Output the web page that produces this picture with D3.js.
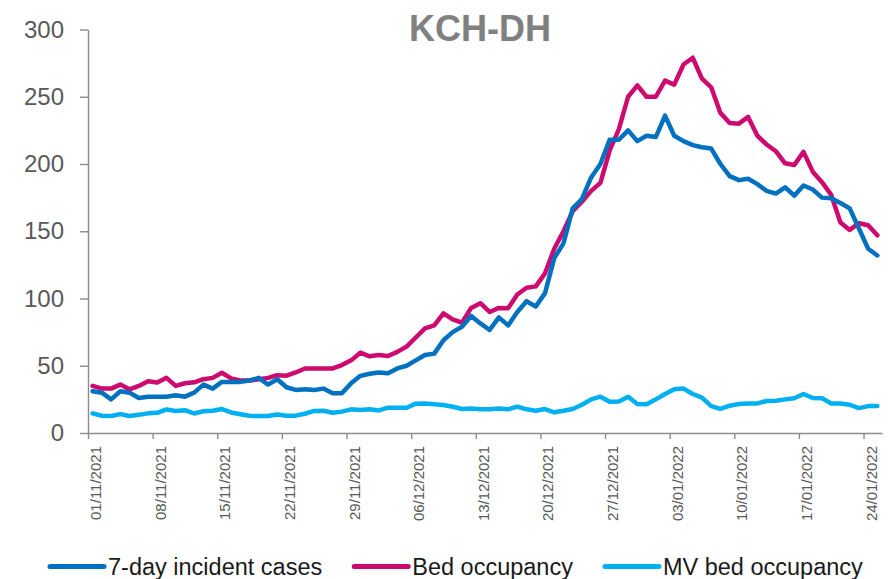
<!DOCTYPE html>
<html lang="en">
<head>
  <meta charset="UTF-8">
  <title>KCH-DH</title>
  <style>
    body { margin: 0; background: #fff; }
    svg { display: block; font-family: "Liberation Sans", Arial, sans-serif; }
  </style>
</head>
<body>
  <svg width="891" height="579"></svg>

  <script src="https://d3js.org/d3.v7.min.js"></script>
  <script>
  // data, one value per day from 01/11/2021
  var startDate = new Date(Date.UTC(2021, 10, 1));

  var cases7day = [31, 30, 25, 31, 30, 26, 27, 27, 27, 28,
    27, 30, 36, 33, 38, 38, 38, 39, 41, 36,
    40, 34, 32, 32.5, 32, 33, 29.5, 29.5, 37, 42.5,
    44, 45, 44.4, 48, 50, 54, 58, 59, 69, 75,
    79, 87, 81.5, 76.6, 86, 80, 90, 98, 94, 104,
    130, 141, 167, 174, 190, 200, 218, 218, 225, 217,
    221, 220, 236, 221, 217, 214, 212.5, 211.5, 200, 191,
    188, 189, 185, 180, 178, 182.7, 176.5, 184, 181, 175,
    174.5, 171, 167, 152, 137, 132];

  var bedOccupancy = [35, 33, 33, 36, 32.5, 35, 38.5, 37.5, 41, 35,
    37, 37.7, 40, 41, 44.8, 40.6, 39, 39, 40, 41,
    43, 42.6, 45, 48, 48, 48, 48, 50.5, 54, 59.7,
    57, 58, 57.2, 60.3, 64.2, 71, 77.8, 80, 89, 84.5,
    82, 93, 96.5, 90, 93, 92.7, 103, 108, 109, 118.7,
    137, 150, 165, 172, 180, 186, 210, 226, 250, 258.5,
    250, 250, 262, 259, 274, 279, 263.5, 257, 238, 230.5,
    230, 235, 221, 214.5, 209.5, 200.5, 199.3, 209, 194.3, 186.5,
    177, 156.5, 151, 156, 154.5, 147];

  var mvBedOccupancy = [14.6, 12.8, 12.6, 14, 12.6, 13.6, 14.6, 15, 17.5, 16.4,
    17, 14.5, 16.2, 16.6, 17.8, 15.3, 14, 12.8, 12.6, 12.6,
    13.8, 12.8, 12.9, 14.3, 16.4, 16.5, 15.1, 15.9, 17.6, 17.1,
    17.6, 16.8, 18.8, 18.8, 18.8, 21.8, 22, 21.3, 20.8, 19.5,
    17.8, 18.3, 17.6, 17.6, 18.3, 17.6, 19.6, 17.6, 16.6, 17.8,
    15.4, 16.5, 17.8, 21, 25, 27, 23.3, 23.5, 27, 21.5,
    21.3, 25, 29, 32.5, 33, 29, 26.3, 20, 18, 20.3,
    21.5, 22, 22, 23.8, 24, 25, 25.8, 29, 26, 25.8,
    22, 22, 21, 18.5, 20, 20];

  var seriesNames = ["7-day incident cases", "Bed occupancy", "MV bed occupancy"];
  var seriesColors = ["#0070c0", "#cc0a6f", "#00b0f0"];
  var yTicks = [0, 50, 100, 150, 200, 250, 300];
  var xTickLabels = ["01/11/2021", "08/11/2021", "15/11/2021", "22/11/2021", "29/11/2021",
    "06/12/2021", "13/12/2021", "20/12/2021", "27/12/2021", "03/01/2022",
    "10/01/2022", "17/01/2022", "24/01/2022"];

  var parseDay = d3.utcParse("%d/%m/%Y");
  var days = cases7day.map(function(d, i) { return d3.utcDay.offset(startDate, i); });
  var series = [cases7day, bedOccupancy, mvBedOccupancy];

  var svg = d3.select("svg");
  var plotLeft = 88, plotRight = 882, plotTop = 29.5, plotBottom = 433;

  // 1. scales
  var x = d3.scaleUtc()
    .domain([startDate, d3.utcDay.offset(startDate, cases7day.length)])
    .range([plotLeft, plotRight]);
  var y = d3.scaleLinear().domain([0, 300]).range([plotBottom, plotTop]);

  // points sit in the middle of each day slot
  function px(d) { return x(d3.utcHour.offset(d, 12)); }

  // 2. axes
  var yAxis = svg.append("g")
    .attr("transform", "translate(" + plotLeft + ",0)")
    .call(d3.axisLeft(y).tickValues(yTicks).tickSize(8).tickPadding(16).tickSizeOuter(0));
  yAxis.selectAll("text")
    .attr("font-size", "24px")
    .attr("fill", "#595959")
    .attr("font-family", "Liberation Sans, Arial, sans-serif");

  var xAxis = svg.append("g")
    .attr("transform", "translate(0," + plotBottom + ")")
    .call(d3.axisBottom(x)
      .tickValues(xTickLabels.map(parseDay))
      .tickSize(6)
      .tickSizeOuter(0)
      .tickFormat(d3.utcFormat("%d/%m/%Y")));
  xAxis.selectAll("text")
    .attr("font-size", "15px")
    .attr("fill", "#595959")
    .attr("font-family", "Liberation Sans, Arial, sans-serif")
    .attr("text-anchor", "end")
    .attr("dy", null)
    .attr("y", 0)
    .attr("transform", "translate(12.5,13) rotate(-90)");

  svg.selectAll(".domain, .tick line")
    .attr("stroke", "#8c8c8c")
    .attr("stroke-width", 1.4);

  // 3. lines (MV first so the others sit above it)
  var line = d3.line()
    .x(function(d, i) { return px(days[i]); })
    .y(function(d) { return y(d); });

  [2, 1, 0].forEach(function(k) {
    svg.append("path")
      .datum(series[k])
      .attr("fill", "none")
      .attr("stroke", seriesColors[k])
      .attr("stroke-width", 4.5)
      .attr("stroke-linejoin", "round")
      .attr("stroke-linecap", "round")
      .attr("d", line);
  });

  // title
  svg.append("text")
    .attr("x", 480)
    .attr("y", 41)
    .attr("text-anchor", "middle")
    .attr("font-size", "36px")
    .attr("font-weight", "bold")
    .attr("fill", "#808080")
    .text("KCH-DH");

  // 4. legend
  var legend = svg.append("g");
  var items = legend.selectAll("g")
    .data(seriesNames)
    .enter()
    .append("g");
  items.append("line")
    .attr("x1", 0).attr("x2", 54)
    .attr("y1", 0).attr("y2", 0)
    .attr("stroke", function(d, i) { return seriesColors[i]; })
    .attr("stroke-width", 5)
    .attr("stroke-linecap", "round");
  items.append("text")
    .attr("x", 58)
    .attr("y", 8.5)
    .attr("font-size", "23.5px")
    .attr("fill", "#1a1a1a")
    .text(function(d) { return d; });

  var pos = 0;
  items.each(function() {
    var g = d3.select(this);
    g.attr("transform", "translate(" + pos + ",0)");
    pos += 58 + g.select("text").node().getComputedTextLength() + 32;
  });
  legend.attr("transform", "translate(50,566.5)");
  </script>
</body>
</html>
